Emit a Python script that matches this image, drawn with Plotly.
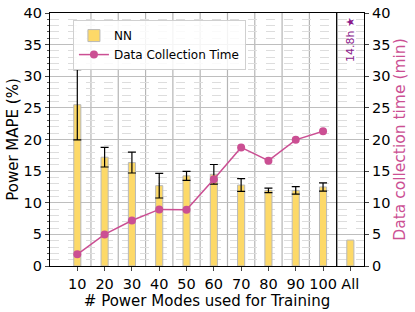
import plotly.graph_objects as go

categories = ["10", "20", "30", "40", "50", "60", "70", "80", "90", "100", "All"]
mape = [25.5, 17.2, 16.35, 12.7, 14.25, 14.5, 12.8, 11.95, 11.95, 12.5, 4.1]
mape_err = [5.55, 1.55, 1.65, 1.95, 0.7, 1.55, 1.0, 0.35, 0.6, 0.65, None]
time_cats = ["10", "20", "30", "40", "50", "60", "70", "80", "90", "100"]
collect_time = [1.85, 5.0, 7.2, 8.95, 8.9, 13.7, 18.75, 16.65, 19.95, 21.3]
annot_text = "14.8h ★"

xpos = list(range(len(categories)))
tpos = [categories.index(c) for c in time_cats]
with_err = [i for i, e in enumerate(mape_err) if e is not None]
no_err = [i for i, e in enumerate(mape_err) if e is None]

FONT = "DejaVu Sans"
PINK = "#CB4F93"
BAR_MARKER = dict(color="#FDD968", line=dict(color="#B8B8B8", width=1))

fig = go.Figure()
fig.add_trace(go.Bar(
    x=[xpos[i] for i in with_err], y=[mape[i] for i in with_err], width=0.26, name="NN",
    marker=BAR_MARKER, legendgroup="nn",
    error_y=dict(type="data", array=[mape_err[i] for i in with_err],
                 visible=True, color="black", thickness=1.2, width=4),
))
fig.add_trace(go.Bar(
    x=[xpos[i] for i in no_err], y=[mape[i] for i in no_err], width=0.26, name="NN",
    marker=BAR_MARKER, legendgroup="nn", showlegend=False,
))
fig.add_trace(go.Scatter(
    x=tpos, y=collect_time, name="Data Collection Time", yaxis="y2",
    mode="lines+markers", line=dict(color=PINK, width=1.5),
    marker=dict(color=PINK, size=8),
))

shapes = []
for i in range(len(categories) - 2):
    shapes.append(dict(type="line", xref="x", yref="paper", x0=i + 0.5, x1=i + 0.5,
                       y0=0, y1=1, line=dict(color="#B5B5B5", width=1.2), layer="below"))
shapes.append(dict(type="line", xref="x", yref="paper", x0=len(categories) - 1.5,
                   x1=len(categories) - 1.5, y0=0, y1=1,
                   line=dict(color="black", width=1.3), layer="above"))

fig.update_layout(
    width=415, height=312,
    margin=dict(l=50, r=51, t=13, b=46, autoexpand=False),
    paper_bgcolor="white", plot_bgcolor="white",
    font=dict(family=FONT, size=14.5, color="black"),
    showlegend=True, barmode="overlay",
    legend=dict(x=0.073, y=0.972, xanchor="left", yanchor="top",
                bgcolor="rgba(255,255,255,0.85)", bordercolor="#D0D0D0", borderwidth=1,
                font=dict(size=12), tracegroupgap=0),
    xaxis=dict(range=[-1, 10.5], tickvals=xpos, ticktext=categories, automargin=False,
               showgrid=False, zeroline=False, showline=True, linecolor="black",
               linewidth=1.2, mirror=True, ticks="outside", ticklen=4,
               tickfont=dict(size=14.5),
               title=dict(text="# Power Modes used for Training", font=dict(size=15), standoff=2)),
    yaxis=dict(range=[0, 40], dtick=5, showgrid=True, gridcolor="#BEBEBE", gridwidth=1,
               automargin=False,
               zeroline=False, showline=True, linecolor="black", linewidth=1.2,
               ticks="outside", ticklen=4, tickfont=dict(size=14.5),
               minor=dict(dtick=1, showgrid=True, gridcolor="#DDDDDD", griddash="dash",
                          gridwidth=0.8, ticks="outside", ticklen=2, tickcolor="#555555"),
               title=dict(text="Power MAPE (%)", font=dict(size=15), standoff=1)),
    yaxis2=dict(range=[0, 40], dtick=5, overlaying="y", side="right", showgrid=False,
                automargin=False,
                zeroline=False, showline=True, linecolor="black", linewidth=1.2,
                ticks="outside", ticklen=4, tickfont=dict(size=14.5),
                title=dict(text="Data collection time (min)", font=dict(size=15.5, color=PINK), standoff=4)),
    shapes=shapes,
)
fig.add_annotation(x=len(categories) - 1, y=35.8, xref="x", yref="y", text=annot_text,
                   textangle=-90, showarrow=False, font=dict(size=11, color="#8B1A8B"))

fig.write_html("out.html", config={"displayModeBar": False},
               post_script="document.body.style.margin='0';")
